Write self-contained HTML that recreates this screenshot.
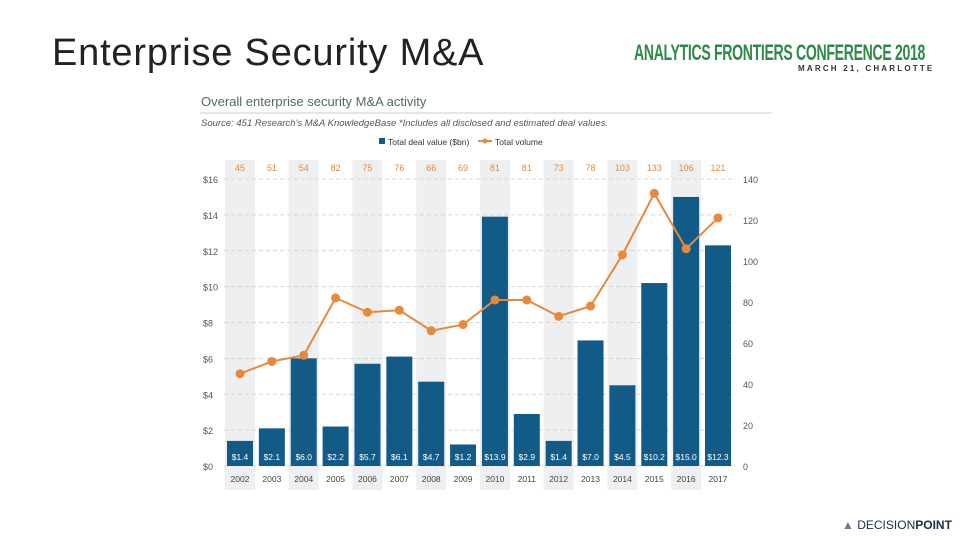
<!DOCTYPE html>
<html><head><meta charset="utf-8"><style>
html,body{margin:0;padding:0;background:#fff;}
body{width:960px;height:540px;overflow:hidden;position:relative;font-family:"Liberation Sans",sans-serif;}
</style></head><body>
<div style="position:absolute;left:52px;top:32px;font-size:38px;color:#222;font-family:'Liberation Sans',sans-serif;letter-spacing:0.8px;white-space:nowrap;">Enterprise Security M&amp;A</div>
<div style="position:absolute;left:634px;top:40px;font-size:22px;font-weight:bold;color:#2f8a4a;transform:scaleX(0.64);transform-origin:left;white-space:nowrap;letter-spacing:-0.5px;">ANALYTICS FRONTIERS CONFERENCE 2018</div>
<div style="position:absolute;left:798px;top:64px;font-size:8px;font-weight:bold;color:#333;letter-spacing:2.2px;white-space:nowrap;">MARCH 21, CHARLOTTE</div>
<svg id="chart" width="960" height="540" style="position:absolute;left:0;top:0;"></svg>
<div style="position:absolute;left:842px;top:518px;font-size:12px;color:#1c2e4a;white-space:nowrap;"><span style="color:#6a7a90">&#9650;</span> DECISION<b>POINT</b></div>
<script>
const years=["2002","2003","2004","2005","2006","2007","2008","2009","2010","2011","2012","2013","2014","2015","2016","2017"];
const dealValues=[1.4,2.1,6.0,2.2,5.7,6.1,4.7,1.2,13.9,2.9,1.4,7.0,4.5,10.2,15.0,12.3];
const volumes=[45,51,54,82,75,76,66,69,81,81,73,78,103,133,106,121];
const leftTicks=[0,2,4,6,8,10,12,14,16];
const rightTicks=[0,20,40,60,80,100,120,140];
const NS="http://www.w3.org/2000/svg";
const svg=document.getElementById('chart');
const y0=466,y1=179;
const yL=v=>y0-(v/16)*(y0-y1);
const yR=v=>y0-(v/140)*(y0-y1);
const xC=i=>240+i*(718-240)/(years.length-1);
function mk(t,a,txt){const e=document.createElementNS(NS,t);for(const k in a)e.setAttribute(k,a[k]);if(txt!==undefined)e.textContent=txt;svg.appendChild(e);return e;}
let e;
e=mk('text',{x:201,y:106,'font-size':13,fill:'#4d6e5c'},'Overall enterprise security M&A activity');

e=mk('line',{x1:200,y1:113,x2:772,y2:113,stroke:'#ccc','stroke-width':1});

e=mk('text',{x:201,y:126,'font-size':9.5,fill:'#555','font-style':'italic'},"Source: 451 Research's M&A KnowledgeBase *Includes all disclosed and estimated deal values.");

e=mk('rect',{x:379,y:138,width:6,height:6,fill:'#135b87'});

e=mk('text',{x:388,y:145,'font-size':8.5,fill:'#333'},'Total deal value ($bn)');

e=mk('line',{x1:478,y1:141,x2:492,y2:141,stroke:'#e8893a','stroke-width':2});

e=mk('circle',{cx:485,cy:141,r:2.5,fill:'#e8893a'});

e=mk('text',{x:495,y:145,'font-size':8.5,fill:'#333'},'Total volume');

years.forEach((y,i)=>{if(i%2===0){e=mk('rect',{x:xC(i)-15,y:160,width:30,height:330,fill:'#eeeff1'});
}});
leftTicks.forEach(t=>{
 e=mk('line',{x1:224,y1:yL(t),x2:736,y2:yL(t),stroke:'#ccc','stroke-dasharray':'4,3','stroke-width':0.8});
 
 e=mk('text',{x:203,y:yL(t)+4,'font-size':9,fill:'#555'},'$'+t);
 
});
rightTicks.forEach(t=>{
 e=mk('text',{x:743,y:yR(t)+4,'font-size':9,fill:'#555'},String(t));
 
});
years.forEach((y,i)=>{
 const v=dealValues[i];
 e=mk('rect',{x:xC(i)-13,y:yL(v),width:26,height:y0-yL(v),fill:'#135b87'});
 
 e=mk('text',{x:xC(i),y:460,'font-size':8.5,fill:'#fff','text-anchor':'middle'},'$'+v.toFixed(1));
 
 e=mk('text',{x:xC(i),y:482,'font-size':8.5,fill:'#444','text-anchor':'middle'},y);
 
 e=mk('text',{x:xC(i),y:171,'font-size':9,fill:'#e8893a','text-anchor':'middle'},String(volumes[i]));
 
});
e=mk('polyline',{points:volumes.map((v,i)=>xC(i)+','+yR(v)).join(' '),fill:'none',stroke:'#e8893a','stroke-width':2});

volumes.forEach((v,i)=>{e=mk('circle',{cx:xC(i),cy:yR(v),r:4.5,fill:'#e8893a'});
});
</script>
</body></html>
